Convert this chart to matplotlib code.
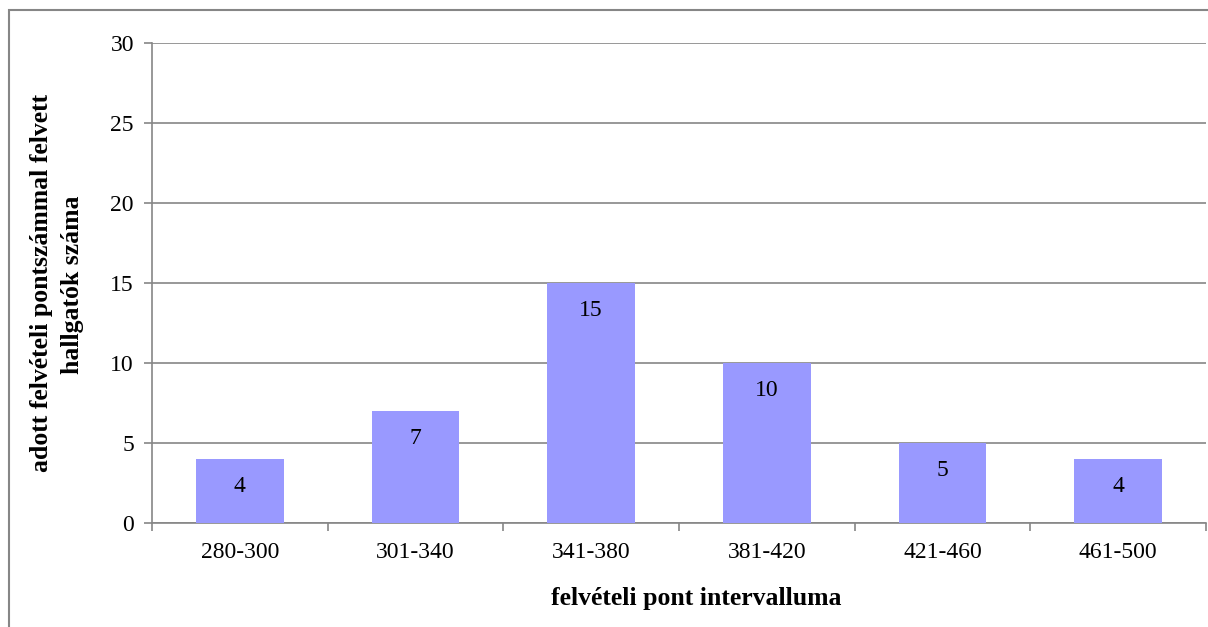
import matplotlib
matplotlib.use('Agg')
from matplotlib import pyplot as plt
from matplotlib.patches import Rectangle
import numpy as np

categories = ['280-300', '301-340', '341-380', '381-420', '421-460', '461-500']
counts = [4, 7, 15, 10, 5, 4]

plt.rcParams['font.family'] = ['Liberation Serif', 'DejaVu Serif']

grey = '#868686'
bar_color = '#9999ff'

fig = plt.figure(figsize=(12.08, 6.27), dpi=100)
ax = fig.add_axes([152 / 1208, 1 - 523 / 627, (1206 - 152) / 1208, (523 - 43) / 627])

x = np.arange(len(categories))
bars = ax.bar(x, counts, width=0.5, color=bar_color, zorder=3)

for xi, v in zip(x, counts):
    ax.annotate(str(v), (xi, v), xytext=(0, -27), textcoords='offset pixels',
                ha='center', va='center', fontsize=17, zorder=4)

ax.set_xlim(-0.5, len(categories) - 0.5)
ax.set_ylim(0, 30)
ax.set_yticks(np.arange(0, 31, 5))
ax.yaxis.grid(True, color=grey, linewidth=1.2, zorder=0)

# category labels sit between the boundary ticks
ax.set_xticks(np.arange(-0.5, len(categories), 1))
ax.set_xticklabels([])
ax.set_xticks(x, minor=True)
ax.set_xticklabels(categories, minor=True, fontsize=17)
ax.tick_params(axis='x', which='minor', length=0, pad=14)
ax.tick_params(axis='x', which='major', length=6, color=grey, width=1.2)
ax.tick_params(axis='y', length=6, color=grey, width=1.2, labelsize=17, pad=7)

for side in ['top', 'right']:
    ax.spines[side].set_visible(False)
for side in ['left', 'bottom']:
    ax.spines[side].set_color(grey)
    ax.spines[side].set_linewidth(1.2)

fig.text(42 / 1208, 1 - 283 / 627, 'adott felvételi pontszámmal felvett',
         rotation=90, ha='center', va='center', fontsize=18.5, fontweight='bold')
fig.text(72 / 1208, 1 - 285 / 627, 'hallgatók száma',
         rotation=90, ha='center', va='center', fontsize=18.5, fontweight='bold')
fig.text(696 / 1208, 1 - 599 / 627, 'felvételi pont intervalluma',
         ha='center', va='center', fontsize=18.5, fontweight='bold')

# chart frame
fig.patches.append(Rectangle((9 / 1208, -0.1), 1.2, 1 - 10 / 627 + 0.1,
                             transform=fig.transFigure, fill=False,
                             edgecolor=grey, linewidth=1.5))

fig.savefig('out.png', dpi=100)
